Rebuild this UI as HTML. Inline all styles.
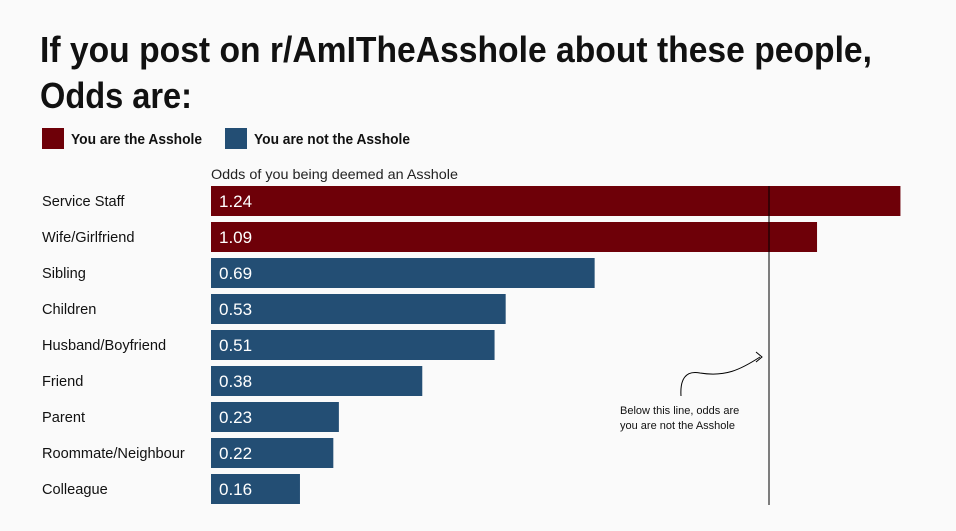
<!DOCTYPE html>
<html><head><meta charset="utf-8"><style>
body{margin:0;background:#fafafa;font-family:"Liberation Sans",sans-serif;}
svg{display:block}
</style></head><body>
<svg width="956" height="531" id="c">
<g id="hdr">
<text x="40" y="62" font-size="36" font-weight="bold" fill="#111" textLength="832" lengthAdjust="spacingAndGlyphs">If you post on r/AmITheAsshole about these people,</text>
<text x="40" y="108" font-size="36" font-weight="bold" fill="#111" textLength="152" lengthAdjust="spacingAndGlyphs">Odds are:</text>
<rect x="42" y="128" width="22" height="21" fill="#6e0008"/>
<text x="71" y="144" font-size="15" font-weight="bold" fill="#111" textLength="131" lengthAdjust="spacingAndGlyphs">You are the Asshole</text>
<rect x="225" y="128" width="22" height="21" fill="#234e74"/>
<text x="254" y="144" font-size="15" font-weight="bold" fill="#111" textLength="156" lengthAdjust="spacingAndGlyphs">You are not the Asshole</text>
<text x="211" y="179" font-size="14" fill="#222" textLength="247" lengthAdjust="spacingAndGlyphs">Odds of you being deemed an Asshole</text>
</g>
<g id="bars"></g>
<g>
<path d="M681 396 C680 380 685 370 700 373 C725 377 740 370 760 357" fill="none" stroke="#000" stroke-width="1"/>
<path d="M756 352 L762 357 L756 362" fill="none" stroke="#000" stroke-width="1"/>
<text x="620" y="414" font-size="11" fill="#111">Below this line, odds are</text>
<text x="620" y="429" font-size="11" fill="#111">you are not the Asshole</text>
</g>
</svg>
<script>
const categories=["Service Staff","Wife/Girlfriend","Sibling","Children","Husband/Boyfriend","Friend","Parent","Roommate/Neighbour","Colleague"];
const odds=[1.24,1.09,0.69,0.53,0.51,0.38,0.23,0.22,0.16];
const labels=["1.24","1.09","0.69","0.53","0.51","0.38","0.23","0.22","0.16"];
const threshold=1.0;
const NS="http://www.w3.org/2000/svg";
const g=document.getElementById('bars');
const x=v=>211+v*556;
const y=i=>186+i*36;
function mk(t,a){const e=document.createElementNS(NS,t);for(const k in a)e.setAttribute(k,a[k]);return e;}
categories.forEach((c,i)=>{
  const r=mk('rect',{x:x(0),y:y(i),width:x(odds[i])-x(0),height:30,fill:odds[i]>=threshold?'#6e0008':'#234e74'});
  
  
  g.appendChild(r);
  const l=mk('text',{x:42,y:y(i)+20,'font-size':14.6,fill:'#111'});
  l.textContent=c;
  
  
  g.appendChild(l);
  const v=mk('text',{x:219,y:y(i)+21,'font-size':17,fill:'#fff'});
  v.textContent=labels[i];
  
  
  g.appendChild(v);
});
const ln=mk('line',{x1:x(threshold)+2,x2:x(threshold)+2,y1:186,y2:505,stroke:'#000','stroke-width':1});


g.appendChild(ln);
</script>
</body></html>
